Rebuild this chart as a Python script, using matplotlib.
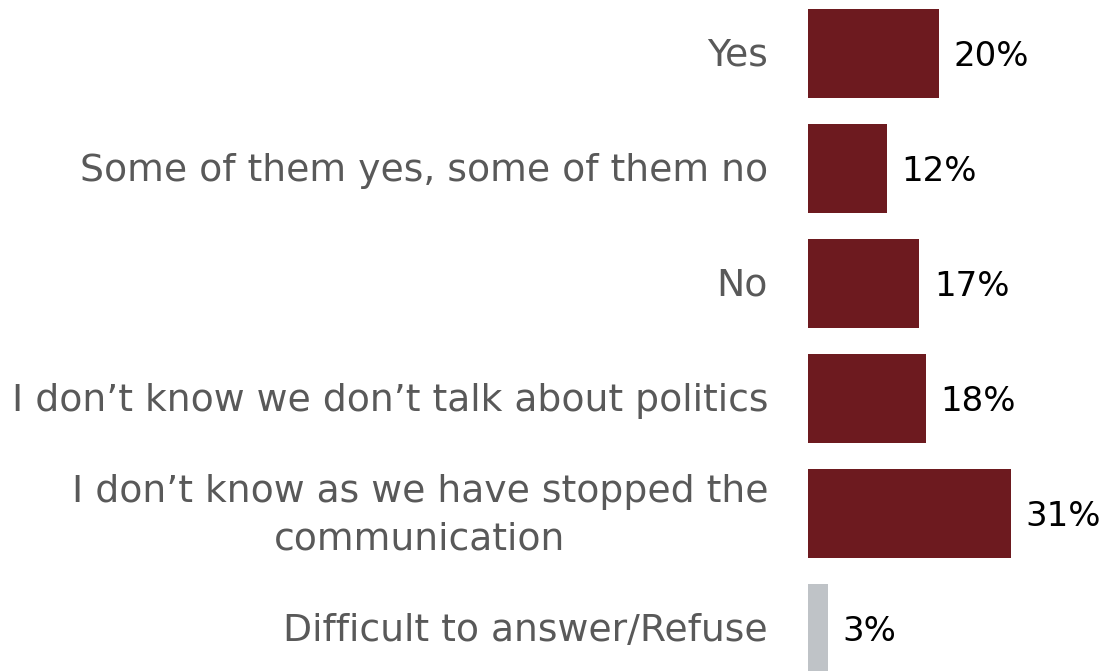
import matplotlib.pyplot as plt

# survey answers and shares (%)
categories = ["Yes", "Some of them yes, some of them no", "No",
              "I don\u2019t know we don\u2019t talk about politics",
              "I don\u2019t know as we have stopped the\ncommunication",
              "Difficult to answer/Refuse"]
values = [20, 12, 17, 18, 31, 3]
colors = ["#6d1a1f"] * 5 + ["#bfc3c7"]

fig = plt.figure(figsize=(11.07, 6.71), dpi=100)
ax = fig.add_axes([808 / 1107, 0, 299 / 1107, 1])

pos = list(range(len(categories)))
ax.barh(pos, values, height=0.77, color=colors)
ax.set_xlim(0, 299 / 6.55)
ax.set_ylim((671 - 53.5) / 115, -53.5 / 115)

for i, (lab, v) in enumerate(zip(categories, values)):
    ax.text(v + 2.2, i + 0.03, f"{v}%", va="center", ha="left", fontsize=24.5, color="black")
    ax.text(-6.1, i + 0.02, lab, va="center", ha="right", multialignment="center",
            fontsize=27.2, color="#595959", linespacing=1.38)

ax.axis("off")
fig.savefig("out.png", dpi=100)
